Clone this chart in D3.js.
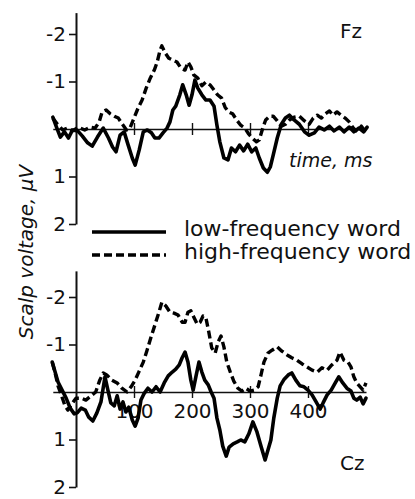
<!DOCTYPE html>
<html>
<head>
<meta charset="utf-8">
<script src="https://cdn.jsdelivr.net/npm/d3@7"></script>
<style>
  body { margin: 0; background: #fff; }
  svg { display: block; }
  text { font-family: "DejaVu Sans", sans-serif; fill: #111; }
</style>
</head>
<body>
<svg id="chart" width="415" height="499"></svg>
<script>
// [time ms, voltage µV]
const fzLow = [[-40,-0.25],[-33,-0.02],[-27,0.17],[-20,0.06],[-13,0.19],[-6,0.02],[3,0.04],[11,0.15],[20,0.29],[28,0.36],[37,0.17],[47,-0.02],[56,0.19],[63,0.38],[69,0.48],[76,0.13],[83,0.06],[90,0.34],[97,0.61],[102,0.76],[109,0.44],[116,0.06],[123,0.02],[130,0.08],[136,0.19],[143,0.19],[150,0.08],[157,-0.02],[162,-0.15],[167,-0.4],[172,-0.48],[179,-0.72],[184,-0.93],[190,-0.72],[195,-0.5],[200,-0.72],[205,-1.03],[210,-0.86],[217,-0.72],[224,-0.61],[231,-0.61],[238,-0.48],[243,-0.08],[248,0.27],[255,0.61],[262,0.65],[268,0.4],[275,0.48],[282,0.34],[289,0.46],[296,0.32],[303,0.48],[310,0.4],[316,0.61],[323,0.82],[330,0.91],[335,0.8],[340,0.55],[347,0.19],[354,-0.1],[361,-0.23],[368,-0.29],[376,-0.19],[385,-0.1],[394,0.06],[402,0.13],[411,0.08],[419,-0.04],[428,0.02],[437,-0.06],[445,0.04],[454,-0.04],[462,0.06],[471,-0.04],[479,0.06],[488,-0.02],[496,0.06],[502,-0.04]];
const fzHigh = [[-40,-0.23],[-32,-0.1],[-23,0.02],[-15,-0.02],[-6,0.04],[4,-0.04],[15,0.02],[25,-0.04],[33,-0.02],[40,-0.15],[45,-0.36],[52,-0.4],[59,-0.32],[66,-0.27],[73,-0.23],[80,-0.1],[87,0.02],[93,-0.02],[100,-0.23],[107,-0.44],[114,-0.61],[121,-0.86],[128,-1.07],[135,-1.24],[140,-1.41],[145,-1.66],[148,-1.75],[154,-1.6],[160,-1.49],[167,-1.45],[174,-1.41],[181,-1.28],[188,-1.24],[193,-1.41],[198,-1.31],[203,-1.14],[210,-1.07],[217,-0.91],[224,-0.99],[231,-0.93],[238,-0.82],[244,-0.72],[251,-0.65],[257,-0.46],[263,-0.36],[270,-0.32],[277,-0.19],[284,-0.08],[291,-0.02],[298,0.11],[304,0.19],[311,0.27],[316,0.23],[322,-0.02],[327,-0.19],[334,-0.27],[340,-0.27],[347,-0.17],[354,-0.06],[361,-0.1],[368,-0.19],[376,-0.25],[385,-0.27],[394,-0.17],[402,-0.1],[409,-0.23],[416,-0.29],[423,-0.23],[430,-0.32],[437,-0.38],[443,-0.29],[450,-0.36],[457,-0.29],[464,-0.23],[471,-0.15],[478,-0.02],[485,0.06],[492,-0.06],[499,0.06]];
const czLow = [[-41,-0.63],[-36,-0.42],[-31,-0.21],[-24,-0.04],[-17,0.13],[-10,0.34],[-3,0.46],[2,0.44],[9,0.34],[16,0.38],[22,0.53],[29,0.61],[36,0.44],[43,0.21],[50,-0.32],[55,-0.04],[60,0.23],[66,0.29],[71,0.08],[76,0.36],[81,0.21],[86,0.42],[91,0.32],[97,0.59],[102,0.72],[107,0.55],[112,0.17],[117,0.04],[124,-0.08],[131,0],[138,-0.11],[145,0],[152,-0.19],[159,-0.34],[166,-0.42],[172,-0.48],[178,-0.57],[183,-0.72],[188,-0.84],[193,-0.63],[198,-0.25],[202,-0.04],[207,-0.34],[212,-0.63],[217,-0.42],[222,-0.25],[228,-0.15],[233,0],[238,0.13],[243,0.55],[248,0.8],[253,1.14],[259,1.35],[264,1.16],[271,1.09],[278,1.05],[284,1.01],[291,1.05],[298,0.88],[305,0.63],[312,0.84],[319,1.14],[326,1.43],[331,1.22],[336,1.01],[341,0.55],[347,0.13],[352,-0.13],[359,-0.27],[366,-0.36],[372,-0.4],[379,-0.25],[386,-0.13],[393,-0.11],[400,-0.04],[407,0.06],[414,0.21],[421,0.36],[426,0.23],[433,0.06],[440,-0.04],[447,-0.19],[453,-0.32],[460,-0.19],[467,-0.08],[474,-0.02],[479,0.13],[484,0.17],[490,0.11],[495,0.25],[500,0.13]];
const czHigh = [[-41,-0.63],[-36,-0.4],[-31,-0.13],[-24,0.11],[-19,0.29],[-14,0.38],[-7,0.25],[0,0.13],[9,0.13],[17,0.17],[26,0.08],[34,0],[41,-0.25],[47,-0.4],[53,-0.36],[62,-0.25],[71,-0.19],[79,-0.08],[88,0],[95,-0.11],[102,-0.25],[109,-0.44],[116,-0.63],[122,-0.86],[129,-1.14],[136,-1.41],[143,-1.68],[148,-1.89],[155,-1.81],[162,-1.68],[169,-1.66],[176,-1.62],[183,-1.47],[188,-1.47],[193,-1.68],[198,-1.71],[203,-1.58],[209,-1.43],[214,-1.47],[219,-1.6],[224,-1.56],[229,-1.26],[234,-0.93],[240,-0.82],[245,-1.05],[250,-1.18],[255,-0.95],[260,-0.63],[266,-0.42],[272,-0.23],[279,-0.08],[286,-0.02],[293,-0.08],[300,-0.02],[307,-0.04],[314,-0.11],[319,-0.36],[324,-0.63],[331,-0.82],[338,-0.88],[347,-0.95],[355,-0.86],[364,-0.78],[372,-0.72],[381,-0.67],[390,-0.59],[398,-0.53],[407,-0.46],[416,-0.42],[424,-0.51],[433,-0.46],[441,-0.57],[450,-0.67],[455,-0.84],[462,-0.67],[469,-0.63],[474,-0.53],[479,-0.32],[484,-0.19],[490,-0.11],[495,-0.04],[500,-0.19]];

const yTicks = [-2, -1, 1, 2];
const xTicks = [100, 200, 300, 400];
const legendLabels = ["low-frequency word", "high-frequency word"];

const svg = d3.select("#chart");
const x = d3.scaleLinear().domain([-40, 500]).range([52.8, 366]);
const unit = 47.5;

const panels = [
  { name: "Fz", zero: 129, top: -2.45, low: fzLow, high: fzHigh, labels: false },
  { name: "Cz", zero: 392, top: -2.55, low: czLow, high: czHigh, labels: true }
];

panels.forEach(p => {
  const y = d3.scaleLinear().domain([p.top, 2]).range([p.zero + p.top * unit, p.zero + 2 * unit]);
  const g = svg.append("g");

  // y axis
  const ya = g.append("g")
    .attr("transform", `translate(${x(0)},0)`)
    .call(d3.axisLeft(y).tickValues(yTicks).tickSizeInner(7).tickSizeOuter(0).tickPadding(3)
      .tickFormat(d => String(d)));
  ya.select(".domain").attr("stroke", "#111").attr("stroke-width", 2);
  ya.selectAll(".tick line").attr("stroke", "#111").attr("stroke-width", 1.6);
  ya.selectAll(".tick text").attr("font-size", 20).attr("font-family", "DejaVu Sans").attr("fill", "#111");

  // x axis along the zero line, ticks crossing it
  const xa = g.append("g")
    .attr("transform", `translate(0,${y(0)})`)
    .call(d3.axisBottom(x).tickValues(xTicks).tickSizeOuter(0).tickSizeInner(6));
  xa.select(".domain").attr("stroke", "#111").attr("stroke-width", 1.6);
  xa.selectAll(".tick line").attr("y1", -6).attr("y2", 6).attr("stroke", "#111").attr("stroke-width", 1.4);
  if (p.labels) {
    xa.selectAll(".tick text").attr("y", 12).attr("dy", "0.71em")
      .attr("font-size", 20).attr("font-family", "DejaVu Sans").attr("fill", "#111");
  } else {
    xa.selectAll(".tick text").remove();
  }

  const line = d3.line().x(d => x(d[0])).y(d => y(d[1]));
  g.append("path").datum(p.high).attr("d", line)
    .attr("fill", "none").attr("stroke", "#000").attr("stroke-width", 3.4)
    .attr("stroke-dasharray", "8,4").attr("stroke-linejoin", "round");
  g.append("path").datum(p.low).attr("d", line)
    .attr("fill", "none").attr("stroke", "#000").attr("stroke-width", 3.6)
    .attr("stroke-linejoin", "round").attr("stroke-linecap", "round");
});

svg.append("text").attr("x", 340).attr("y", 38).attr("font-size", 20).text("Fz");
svg.append("text").attr("x", 340).attr("y", 470).attr("font-size", 20).text("Cz");
svg.append("text").attr("x", 289).attr("y", 167).attr("font-size", 19)
  .attr("font-style", "italic").text("time, ms");

svg.append("text")
  .attr("transform", "translate(33,252) rotate(-90)")
  .attr("text-anchor", "middle")
  .attr("font-size", 20).attr("font-style", "italic")
  .text("Scalp voltage, \u03bcV");

// legend
const legend = svg.append("g");
legendLabels.forEach((label, i) => {
  const ly = 232 + i * 23;
  legend.append("line").attr("x1", 92).attr("x2", 166).attr("y1", ly).attr("y2", ly)
    .attr("stroke", "#000").attr("stroke-width", 3.6)
    .attr("stroke-dasharray", i === 1 ? "8,4" : null);
  legend.append("text").attr("x", 184).attr("y", ly + 4).attr("font-size", 22).text(label);
});
</script>
</body>
</html>
